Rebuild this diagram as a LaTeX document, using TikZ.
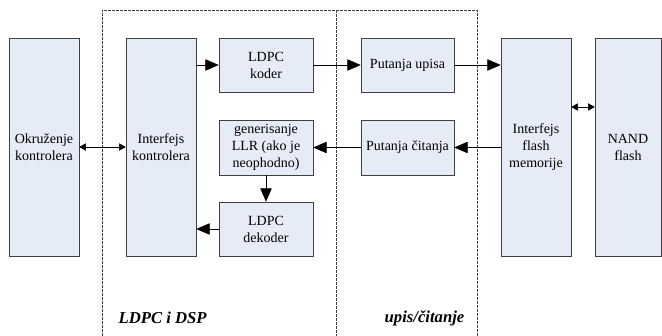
\documentclass[tikz,border=0pt]{standalone}
\usepackage{fontspec}
\setmainfont{Liberation Serif}
\usepackage{xcolor}
\usetikzlibrary{arrows.meta}

\definecolor{boxfill}{HTML}{E6ECF7}
\definecolor{boxline}{HTML}{404040}

\tikzset{
	blok/.style = {draw=boxline, fill=boxfill, thin, align=center, inner sep=1pt,
		font=\fontsize{10.5}{12.75}\selectfont},
	visoki/.style = {blok, minimum width=52.5pt, minimum height=163.5pt},
	niski/.style = {blok, minimum width=70.5pt, minimum height=40.5pt},
	arr/.style = {-{Triangle[length=10pt,width=8.5pt]}},
	dvo/.style = {{Triangle[length=5pt,width=5.5pt]}-{Triangle[length=5pt,width=5.5pt]}},
	oblast/.style = {boxline, dash pattern=on 2pt off 1pt},
	oznaka/.style = {font=\fontsize{12.5}{15}\selectfont\bfseries\itshape}
}

\begin{document}
\begin{tikzpicture} [x=0.75pt, y=-0.75pt]
	\useasboundingbox (0,0) rectangle (662,336);
	% oblasti
	\draw [oblast] (102,336) -- (102,10) -- (336,10) -- (336,336);
	\draw [oblast] (336,10) -- (477,10) -- (477,336);
	\node [oznaka, anchor=west] (dsp) at (114,318) {LDPC i DSP};
	\node [oznaka, anchor=east] (upc) at (469,318) {upis/čitanje};
	% blokovi
	\node [visoki] (okr) at (44,147) {Okruženje\\kontrolera};
	\node [visoki] (ik) at (161,147) {Interfejs\\kontrolera};
	\node [niski] (koder) at (266,65) {LDPC\\koder};
	\node [niski, minimum height=41.25pt] (llr) at (266,147.5) {generisanje\\LLR (ako je\\neophodno)};
	\node [niski] (dekoder) at (266,229) {LDPC\\dekoder};
	\node [niski, minimum width=69.75pt] (upisa) at (407.5,65) {Putanja upisa};
	\node [niski, minimum width=69.75pt, minimum height=41.25pt] (citanja) at (407.5,147.5) {Putanja čitanja};
	\node [visoki] (ifm) at (536,147) {Interfejs\\flash\\memorije};
	\node [visoki, minimum width=49.5pt] (nand) at (628,147) {NAND\\flash};
	% veze
	\draw [dvo] (okr.east) -- (ik.west);
	\draw [arr] (ik.east |- koder.west) -- (koder.west);
	\draw [arr] (koder.east) -- (upisa.west);
	\draw [arr] (upisa.east) -- (upisa.east -| ifm.west);
	\draw [dvo] ([yshift=30pt]ifm.east) -- ([yshift=30pt]nand.west);
	\draw [arr] (ifm.west |- citanja.east) -- (citanja.east);
	\draw [arr] (citanja.west) -- (llr.east);
	\draw [arr] (llr.south) -- (dekoder.north);
	\draw [arr] (dekoder.west) -- (dekoder.west -| ik.east);
\end{tikzpicture}
\end{document}
